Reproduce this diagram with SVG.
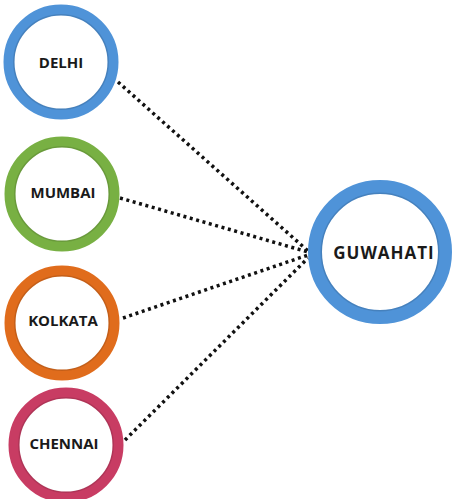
<svg xmlns="http://www.w3.org/2000/svg" width="454" height="499" viewBox="0 0 454 499">
<style>
.ring{fill:#ffffff;stroke-width:11}
.shade{fill:none;stroke:#000;stroke-opacity:0.12;stroke-width:1.5}
.lbl{font-family:"Open Sans","DejaVu Sans",sans-serif;font-weight:bold;font-size:15px;fill:#1a1a1a;text-anchor:middle;dominant-baseline:central}
.conn{fill:none;stroke:#111;stroke-width:3.5;stroke-dasharray:3 3.6}
</style>
<rect width="454" height="499" fill="#ffffff"/>
<g id="connectors">
<line class="conn" x1="118" y1="82" x2="308" y2="251"/>
<line class="conn" x1="120" y1="198" x2="308" y2="252"/>
<line class="conn" x1="123" y1="318" x2="308" y2="255"/>
<line class="conn" x1="125" y1="440" x2="308" y2="258"/>
</g>
<g id="delhi">
<circle class="ring" cx="61" cy="62" r="52" stroke="#4f93d8"/>
<circle class="shade" cx="61" cy="62" r="47.2"/>
<text class="lbl" x="61" y="62">DELHI</text>
</g>
<g id="mumbai">
<circle class="ring" cx="62" cy="194" r="52" stroke="#78b043"/>
<circle class="shade" cx="62" cy="194" r="47.2"/>
<text class="lbl" x="63" y="192">MUMBAI</text>
</g>
<g id="kolkata">
<circle class="ring" cx="62" cy="323" r="52" stroke="#e06c1c"/>
<circle class="shade" cx="62" cy="323" r="47.2"/>
<text class="lbl" x="63" y="320">KOLKATA</text>
</g>
<g id="chennai">
<circle class="ring" cx="66" cy="445" r="52" stroke="#c83c63"/>
<circle class="shade" cx="66" cy="445" r="47.2"/>
<text class="lbl" x="64" y="443">CHENNAI</text>
</g>
<g id="guwahati">
<circle cx="380" cy="252" r="65" fill="#ffffff" stroke="#4f93d8" stroke-width="14"/>
<circle class="shade" cx="380" cy="252" r="58.7"/>
<text class="lbl" x="384" y="252" style="font-size:17px;letter-spacing:1px">GUWAHATI</text>
</g>
</svg>
